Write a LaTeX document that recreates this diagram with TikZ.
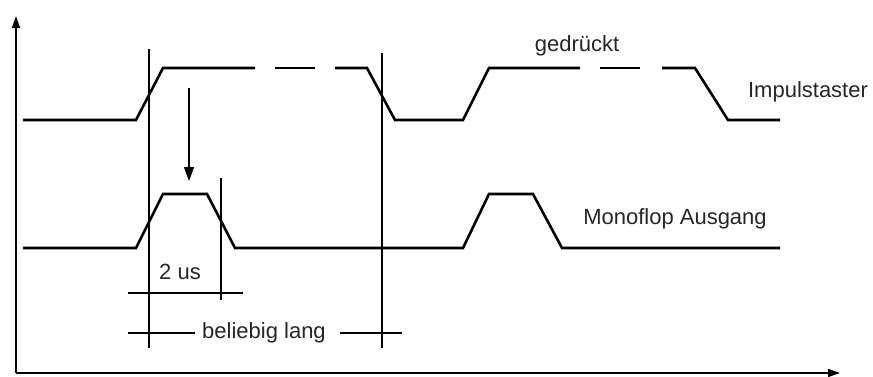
\documentclass[tikz,border=0pt]{standalone}
\usepackage{fontspec}
\setmainfont{Liberation Sans}
\usetikzlibrary{arrows.meta}
\begin{document}
\begin{tikzpicture}[x=1pt,y=-1pt,
  sig/.style={line width=2.6pt,line join=miter},
  thin/.style={line width=1.2pt},
  axis/.style={line width=1.4pt,-{Triangle[length=12pt,width=8pt]}},
  lbl/.style={font=\fontsize{22}{26}\selectfont,inner sep=1pt,text=black!85}]
\useasboundingbox (0,0) rectangle (873,376);
% axes
\coordinate (o) at (16,373);
\coordinate (ytip) at (16,16);
\coordinate (xtip) at (840,373);
\draw[axis] (o) -- (ytip);
\draw[axis] (o) -- (xtip);
% Impulstaster signal
\draw[sig] (23,120) -- (136,120) -- (163,68) -- (255,68);
\draw[sig] (275,68) -- (315,68);
\draw[sig] (335,68) -- (367,68) -- (395,120) -- (463,120) -- (489,68) -- (580,68);
\draw[sig] (600,68) -- (640,68);
\draw[sig] (662,68) -- (695,68) -- (728,120) -- (780,120);
% Monoflop signal
\draw[sig] (23,248) -- (136,248) -- (163,194) -- (207,194) -- (235,248) -- (463,248)
  -- (489,194) -- (533,194) -- (562,248) -- (780,248);
% vertical markers
\draw[thin] (149,49) -- (149,348);
\draw[thin] (382,53) -- (382,348);
\draw[thin] (221,178) -- (221,300);
% trigger arrow
\coordinate (a1) at (189,88);
\coordinate (a2) at (189,181);
\draw[thin,-{Triangle[length=14pt,width=10pt]}] (a1) -- (a2);
% dimension lines
\node[lbl] (tus) at (180,272) {2 us};
\draw[thin] (128,293) -- (243,293);
\node[lbl] (bel) at (264,333) {beliebig lang};
\draw[thin] (128,333) -- ([xshift=-6pt]bel.west);
\draw[thin] ([xshift=13pt]bel.east) -- (402,333);
% labels
\node[lbl] (ged) at (577,46) {gedrückt};
\node[lbl] (imp) at (808,92) {Impulstaster};
\node[lbl] (mono) at (675,219) {Monoflop Ausgang};
\end{tikzpicture}
\end{document}
